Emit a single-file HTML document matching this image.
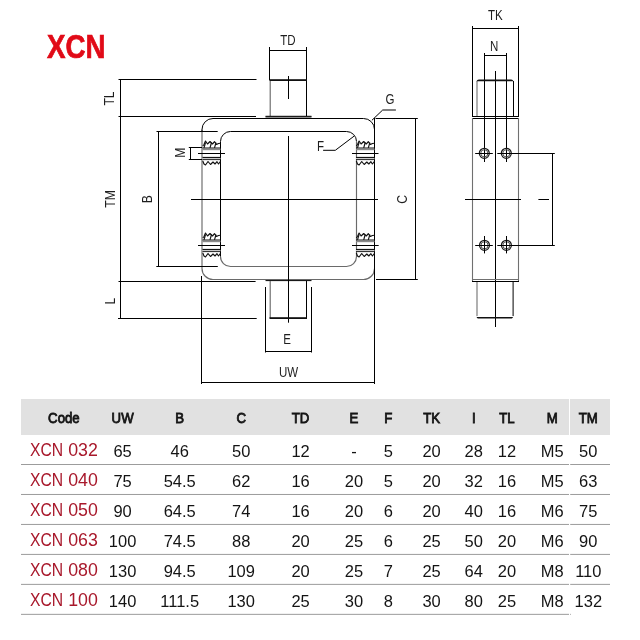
<!DOCTYPE html>
<html><head><meta charset="utf-8"><style>
html,body{margin:0;padding:0;background:#fff;width:640px;height:640px;overflow:hidden}
svg{display:block;will-change:transform}
.k{stroke:#000;stroke-width:1;fill:none}
.kt{stroke:#111;stroke-width:1.15;fill:none;stroke-linejoin:round}
.g{stroke:#6a6a6a;stroke-width:1.15;fill:none}
.g2{stroke:#707070;stroke-width:1.1;fill:none}
text{font-family:"Liberation Sans",sans-serif}
.lb{font-size:14.4px;fill:#1e1e1e;text-anchor:middle}
.h{font-size:14.6px;font-weight:normal;fill:#141414;stroke:#141414;stroke-width:0.85;text-anchor:middle}
.d{font-size:17px;fill:#141414;text-anchor:middle}
.code{font-size:17.8px;fill:#a8182b;text-anchor:middle}
.title{font-size:33.6px;font-weight:bold;fill:#e10a17;stroke:#e10a17;stroke-width:0.7}
</style></head><body>
<svg width="640" height="640" viewBox="0 0 640 640">
<text class="title" x="47.0" y="57.8" textLength="58.6" lengthAdjust="spacingAndGlyphs">XCN</text>
<line class="k" x1="269.5" y1="47" x2="269.5" y2="80"/>
<line class="k" x1="306.5" y1="47" x2="306.5" y2="80"/>
<line class="k" x1="269.5" y1="50.5" x2="306.5" y2="50.5"/>
<line class="g" x1="270.2" y1="80" x2="270.2" y2="116"/>
<line class="k" x1="306.5" y1="80" x2="306.5" y2="116"/>
<rect x="269.5" y="79.2" width="37.5" height="1.8" fill="#111"/>
<line class="k" x1="288.5" y1="76" x2="288.5" y2="99"/>
<rect x="265.5" y="116" width="46" height="2.5" fill="#8d8d8d"/>
<line class="k" x1="265.5" y1="116.3" x2="311.5" y2="116.3"/>
<path class="k" d="M213,118.5 H363.5 A11,11 0 0 1 374.5,129.5 V269"/>
<path class="g" d="M374.5,268.5 A11,11 0 0 1 363.5,279.5 H213 A11,11 0 0 1 202,268.5 V129.5"/>
<path class="k" d="M202,131 V129.5 A11,11 0 0 1 213,118.5"/>
<line class="k" x1="374.5" y1="118" x2="374.5" y2="384"/>
<path class="k" d="M230.5,131.5 H346.5 A10,10 0 0 1 356.5,141.5"/>
<path class="g" d="M356.5,141.5 V256.5 A10,10 0 0 1 346.5,266.5 H230.5 A10,10 0 0 1 220.5,256.5"/>
<path class="k" d="M220.5,256.5 V141.5 A10,10 0 0 1 230.5,131.5"/>
<line class="k" x1="288.5" y1="136" x2="288.5" y2="322.7"/>
<line class="k" x1="191" y1="199.5" x2="378" y2="199.5"/>
<rect x="202.5" y="147.50" width="18.0" height="1.1" fill="#111"/>
<rect x="202.5" y="148.60" width="18.0" height="1.6" fill="#8a8a8a"/>
<rect x="202.5" y="156.90" width="18.0" height="1.1" fill="#111"/>
<rect x="202.5" y="158.00" width="18.0" height="1.2" fill="#c8c8c8"/>
<rect x="202.5" y="159.10" width="18.0" height="1.0" fill="#222"/>
<polyline class="kt" points="202.8,146.0 204.0,144.5 205.5,141.0 207.5,144.0 210.0,141.5 212.5,144.0 214.5,141.7 216.5,144.5 218.5,143.5 220.5,143.3"/>
<polyline class="kt" points="202.8,161.0 204.0,164.0 205.5,165.0 208.0,161.5 210.5,164.5 213.0,162.0 215.0,164.0 217.0,161.7 218.5,164.0 220.0,162.0 220.5,161.5"/>
<line class="kt" x1="204.0" y1="147.9" x2="205.5" y2="142.5"/>
<line class="kt" x1="210.0" y1="147.9" x2="211.5" y2="142.5"/>
<line class="kt" x1="214.5" y1="147.9" x2="216.0" y2="142.5"/>
<rect x="356" y="147.50" width="18.5" height="1.1" fill="#111"/>
<rect x="356" y="148.60" width="18.5" height="1.6" fill="#8a8a8a"/>
<rect x="356" y="156.90" width="18.5" height="1.1" fill="#111"/>
<rect x="356" y="158.00" width="18.5" height="1.2" fill="#c8c8c8"/>
<rect x="356" y="159.10" width="18.5" height="1.0" fill="#222"/>
<polyline class="kt" points="356.3,146.0 357.5,144.5 359.1,141.0 361.1,144.0 363.7,141.5 366.3,144.0 368.3,141.7 370.4,144.5 372.4,143.5 374.5,143.3"/>
<polyline class="kt" points="356.3,161.0 357.5,164.0 359.1,165.0 361.7,161.5 364.2,164.5 366.8,162.0 368.8,164.0 370.9,161.7 372.4,164.0 374.0,162.0 374.5,161.5"/>
<line class="kt" x1="357.5" y1="147.9" x2="359.1" y2="142.5"/>
<line class="kt" x1="363.7" y1="147.9" x2="365.2" y2="142.5"/>
<line class="kt" x1="368.3" y1="147.9" x2="369.9" y2="142.5"/>
<rect x="202.5" y="239.50" width="18.0" height="1.1" fill="#111"/>
<rect x="202.5" y="240.60" width="18.0" height="1.6" fill="#8a8a8a"/>
<rect x="202.5" y="248.90" width="18.0" height="1.1" fill="#111"/>
<rect x="202.5" y="250.00" width="18.0" height="1.2" fill="#c8c8c8"/>
<rect x="202.5" y="251.10" width="18.0" height="1.0" fill="#222"/>
<polyline class="kt" points="202.8,238.0 204.0,236.5 205.5,233.0 207.5,236.0 210.0,233.5 212.5,236.0 214.5,233.7 216.5,236.5 218.5,235.5 220.5,235.3"/>
<polyline class="kt" points="202.8,253.0 204.0,256.0 205.5,257.0 208.0,253.5 210.5,256.5 213.0,254.0 215.0,256.0 217.0,253.7 218.5,256.0 220.0,254.0 220.5,253.5"/>
<line class="kt" x1="204.0" y1="239.9" x2="205.5" y2="234.5"/>
<line class="kt" x1="210.0" y1="239.9" x2="211.5" y2="234.5"/>
<line class="kt" x1="214.5" y1="239.9" x2="216.0" y2="234.5"/>
<rect x="356" y="239.50" width="18.5" height="1.1" fill="#111"/>
<rect x="356" y="240.60" width="18.5" height="1.6" fill="#8a8a8a"/>
<rect x="356" y="248.90" width="18.5" height="1.1" fill="#111"/>
<rect x="356" y="250.00" width="18.5" height="1.2" fill="#c8c8c8"/>
<rect x="356" y="251.10" width="18.5" height="1.0" fill="#222"/>
<polyline class="kt" points="356.3,238.0 357.5,236.5 359.1,233.0 361.1,236.0 363.7,233.5 366.3,236.0 368.3,233.7 370.4,236.5 372.4,235.5 374.5,235.3"/>
<polyline class="kt" points="356.3,253.0 357.5,256.0 359.1,257.0 361.7,253.5 364.2,256.5 366.8,254.0 368.8,256.0 370.9,253.7 372.4,256.0 374.0,254.0 374.5,253.5"/>
<line class="kt" x1="357.5" y1="239.9" x2="359.1" y2="234.5"/>
<line class="kt" x1="363.7" y1="239.9" x2="365.2" y2="234.5"/>
<line class="kt" x1="368.3" y1="239.9" x2="369.9" y2="234.5"/>
<line class="k" x1="198" y1="153.5" x2="225" y2="153.5"/>
<line class="k" x1="352" y1="153.5" x2="378.5" y2="153.5"/>
<line class="k" x1="198" y1="245.5" x2="225" y2="245.5"/>
<line class="k" x1="352" y1="245.5" x2="378.7" y2="245.5"/>
<line class="k" x1="265.5" y1="280.6" x2="311.5" y2="280.6" stroke-width="1.4"/>
<line class="g" x1="270.2" y1="281" x2="270.2" y2="318"/>
<line class="k" x1="306.5" y1="281" x2="306.5" y2="318"/>
<rect x="269.5" y="317.2" width="37.5" height="1.8" fill="#111"/>
<line class="k" x1="265.5" y1="287" x2="265.5" y2="352.5"/>
<line class="k" x1="311.5" y1="287" x2="311.5" y2="352.5"/>
<line class="k" x1="265.5" y1="351.5" x2="311.5" y2="351.5"/>
<line class="k" x1="201.5" y1="276" x2="201.5" y2="384"/>
<line class="k" x1="201.5" y1="382.5" x2="374.5" y2="382.5"/>
<line class="k" x1="118.5" y1="79.5" x2="256.5" y2="79.5"/>
<line class="k" x1="118.5" y1="116.5" x2="256" y2="116.5"/>
<line class="k" x1="120.5" y1="79" x2="120.5" y2="318.5"/>
<line class="k" x1="118.5" y1="281.5" x2="255.6" y2="281.5"/>
<line class="k" x1="118" y1="318.5" x2="256.7" y2="318.5"/>
<line class="k" x1="156.5" y1="131.5" x2="217.7" y2="131.5"/>
<line class="k" x1="156.3" y1="266.5" x2="217.8" y2="266.5"/>
<line class="k" x1="158.5" y1="131" x2="158.5" y2="266.5"/>
<line class="k" x1="188.8" y1="147.5" x2="202" y2="147.5"/>
<line class="k" x1="188.8" y1="159.5" x2="202" y2="159.5"/>
<line class="k" x1="190.5" y1="147.5" x2="190.5" y2="159.5"/>
<line class="k" x1="375.6" y1="118.5" x2="417.8" y2="118.5"/>
<line class="k" x1="376" y1="279.5" x2="417.8" y2="279.5"/>
<line class="k" x1="415.5" y1="118.5" x2="415.5" y2="279.5"/>
<polyline class="k" points="371.9,120.3 382.7,110 395.9,110"/>
<polyline class="k" points="354,136.2 335.3,150.3 323.1,150.3"/>
<text class="lb" transform="translate(288.0,45.1) scale(0.8,1)" x="0" y="0">TD</text>
<text class="lb" transform="translate(288.6,376.7) scale(0.8,1)" x="0" y="0">UW</text>
<text class="lb" transform="translate(287.2,343.7) scale(0.8,1)" x="0" y="0">E</text>
<text class="lb" transform="translate(389.9,104.45) scale(0.8,1)" x="0" y="0">G</text>
<text class="lb" transform="translate(320.5,150.9) scale(0.8,1)" x="0" y="0">F</text>
<text class="lb" transform="translate(495.4,20.0) scale(0.8,1)" x="0" y="0">TK</text>
<text class="lb" transform="translate(494.2,50.9) scale(0.8,1)" x="0" y="0">N</text>
<text class="lb" style="font-size:15.2px" transform="translate(109.0,98.5) rotate(-90) scale(0.8,1)" x="0" y="5.44">TL</text>
<text class="lb" style="font-size:15.2px" transform="translate(109.2,198.9) rotate(-90) scale(0.8,1)" x="0" y="5.44">TM</text>
<text class="lb" style="font-size:15.2px" transform="translate(146.1,199.1) rotate(-90) scale(0.8,1)" x="0" y="5.44">B</text>
<text class="lb" style="font-size:15.2px" transform="translate(109.4,301.0) rotate(-90) scale(0.8,1)" x="0" y="5.44">L</text>
<text class="lb" style="font-size:15.2px" transform="translate(401.2,199.3) rotate(-90) scale(0.8,1)" x="0" y="5.44">C</text>
<text class="lb" style="font-size:15.2px" transform="translate(179.5,152.7) rotate(-90) scale(0.8,1)" x="0" y="5.44">M</text>
<line class="k" x1="538.4" y1="199.5" x2="549" y2="199.5"/>
<line class="k" x1="472.5" y1="26" x2="472.5" y2="116.5"/>
<line class="k" x1="518.5" y1="26" x2="518.5" y2="116.5"/>
<line class="k" x1="472.5" y1="28.5" x2="518.5" y2="28.5"/>
<line class="k" x1="484.5" y1="53" x2="484.5" y2="162"/>
<line class="k" x1="506.5" y1="53" x2="506.5" y2="162"/>
<line class="k" x1="484.5" y1="55.5" x2="506.5" y2="55.5"/>
<line class="k" x1="495.5" y1="71" x2="495.5" y2="327"/>
<line class="g2" x1="477" y1="81" x2="477" y2="116"/>
<line class="k" x1="513.5" y1="81" x2="513.5" y2="116"/>
<path d="M476.5,82 Q476.5,79.5 479,79.5 H511 Q513.5,79.5 513.5,82 V81.3 H476.5 Z" fill="#111"/>
<line class="k" x1="472" y1="116.5" x2="519" y2="116.5"/>
<line class="k" x1="472" y1="118.5" x2="519" y2="118.5"/>
<line class="g2" x1="472.5" y1="118" x2="472.5" y2="281"/>
<line class="g2" x1="518.5" y1="118" x2="518.5" y2="281"/>
<line class="g2" x1="472" y1="279.5" x2="519" y2="279.5"/>
<line class="k" x1="472" y1="281.5" x2="519" y2="281.5"/>
<circle cx="484.3" cy="153.3" r="5.0" fill="none" stroke="#1a1a1a" stroke-width="1.2"/>
<circle cx="484.3" cy="153.3" r="3.6" fill="none" stroke="#555" stroke-width="1.0"/>
<circle cx="506.3" cy="153.3" r="5.0" fill="none" stroke="#1a1a1a" stroke-width="1.2"/>
<circle cx="506.3" cy="153.3" r="3.6" fill="none" stroke="#555" stroke-width="1.0"/>
<circle cx="484.5" cy="245.3" r="5.0" fill="none" stroke="#1a1a1a" stroke-width="1.2"/>
<circle cx="484.5" cy="245.3" r="3.6" fill="none" stroke="#555" stroke-width="1.0"/>
<circle cx="506.4" cy="245.3" r="5.0" fill="none" stroke="#1a1a1a" stroke-width="1.2"/>
<circle cx="506.4" cy="245.3" r="3.6" fill="none" stroke="#555" stroke-width="1.0"/>
<line class="k" x1="475.2" y1="153.5" x2="492.8" y2="153.5"/>
<line class="k" x1="497.3" y1="153.5" x2="554.8" y2="153.5"/>
<line class="k" x1="475.2" y1="245.5" x2="492.8" y2="245.5"/>
<line class="k" x1="497.3" y1="245.5" x2="554.8" y2="245.5"/>
<line class="k" x1="484.5" y1="236" x2="484.5" y2="253.4"/>
<line class="k" x1="506.5" y1="236" x2="506.5" y2="253.4"/>
<line class="k" x1="465" y1="199.5" x2="521" y2="199.5"/>
<line class="k" x1="552.5" y1="153.5" x2="552.5" y2="245.5"/>
<line class="g2" x1="477" y1="282" x2="477" y2="316"/>
<line class="k" x1="513.1" y1="282" x2="513.1" y2="316"/>
<path d="M476.5,316 Q476.5,318.6 479,318.6 H510.6 Q513.1,318.6 513.1,316 V316.9 H476.5 Z" fill="#111"/>
<rect x="21" y="399" width="589" height="36" fill="#e1e1e1"/>
<rect x="569" y="399" width="1" height="36" fill="#fff"/>
<text class="h" x="70.61" y="422.7" transform="scale(0.905,1)">Code</text>
<text class="h" x="135.47" y="422.7" transform="scale(0.905,1)">UW</text>
<text class="h" x="198.56" y="422.7" transform="scale(0.905,1)">B</text>
<text class="h" x="266.52" y="422.7" transform="scale(0.905,1)">C</text>
<text class="h" x="332.15" y="422.7" transform="scale(0.905,1)">TD</text>
<text class="h" x="391.05" y="422.7" transform="scale(0.905,1)">E</text>
<text class="h" x="429.17" y="422.7" transform="scale(0.905,1)">F</text>
<text class="h" x="476.91" y="422.7" transform="scale(0.905,1)">TK</text>
<text class="h" x="523.54" y="422.7" transform="scale(0.905,1)">I</text>
<text class="h" x="560.22" y="422.7" transform="scale(0.905,1)">TL</text>
<text class="h" x="610.28" y="422.7" transform="scale(0.905,1)">M</text>
<text class="h" x="650.06" y="422.7" transform="scale(0.905,1)">TM</text>
<rect x="21" y="464.00" width="589" height="1" fill="#9c9c9c"/>
<rect x="21" y="493.97" width="589" height="1" fill="#9c9c9c"/>
<rect x="21" y="523.94" width="589" height="1" fill="#9c9c9c"/>
<rect x="21" y="553.91" width="589" height="1" fill="#9c9c9c"/>
<rect x="21" y="583.88" width="589" height="1" fill="#9c9c9c"/>
<rect x="21" y="613.85" width="550" height="1" fill="#9c9c9c"/>
<rect x="569" y="460" width="1.2" height="160" fill="#fff"/>
<text class="code" x="30.0" y="455.80" textLength="33.2" lengthAdjust="spacingAndGlyphs" style="text-anchor:start">XCN</text>
<text class="code" x="97.9" y="455.80" style="text-anchor:end">032</text>
<text class="d" x="126.39" y="457.30" transform="scale(0.97,1)">65</text>
<text class="d" x="185.26" y="457.30" transform="scale(0.97,1)">46</text>
<text class="d" x="248.66" y="457.30" transform="scale(0.97,1)">50</text>
<text class="d" x="309.90" y="457.30" transform="scale(0.97,1)">12</text>
<text class="d" x="364.85" y="457.30" transform="scale(0.97,1)">-</text>
<text class="d" x="400.41" y="457.30" transform="scale(0.97,1)">5</text>
<text class="d" x="444.95" y="457.30" transform="scale(0.97,1)">20</text>
<text class="d" x="488.45" y="457.30" transform="scale(0.97,1)">28</text>
<text class="d" x="522.68" y="457.30" transform="scale(0.97,1)">12</text>
<text class="d" x="569.38" y="457.30" transform="scale(0.97,1)">M5</text>
<text class="d" x="606.49" y="457.30" transform="scale(0.97,1)">50</text>
<text class="code" x="30.0" y="485.77" textLength="33.2" lengthAdjust="spacingAndGlyphs" style="text-anchor:start">XCN</text>
<text class="code" x="97.9" y="485.77" style="text-anchor:end">040</text>
<text class="d" x="126.39" y="487.27" transform="scale(0.97,1)">75</text>
<text class="d" x="185.26" y="487.27" transform="scale(0.97,1)">54.5</text>
<text class="d" x="248.66" y="487.27" transform="scale(0.97,1)">62</text>
<text class="d" x="309.90" y="487.27" transform="scale(0.97,1)">16</text>
<text class="d" x="364.85" y="487.27" transform="scale(0.97,1)">20</text>
<text class="d" x="400.41" y="487.27" transform="scale(0.97,1)">5</text>
<text class="d" x="444.95" y="487.27" transform="scale(0.97,1)">20</text>
<text class="d" x="488.45" y="487.27" transform="scale(0.97,1)">32</text>
<text class="d" x="522.68" y="487.27" transform="scale(0.97,1)">16</text>
<text class="d" x="569.38" y="487.27" transform="scale(0.97,1)">M5</text>
<text class="d" x="606.49" y="487.27" transform="scale(0.97,1)">63</text>
<text class="code" x="30.0" y="515.74" textLength="33.2" lengthAdjust="spacingAndGlyphs" style="text-anchor:start">XCN</text>
<text class="code" x="97.9" y="515.74" style="text-anchor:end">050</text>
<text class="d" x="126.39" y="517.24" transform="scale(0.97,1)">90</text>
<text class="d" x="185.26" y="517.24" transform="scale(0.97,1)">64.5</text>
<text class="d" x="248.66" y="517.24" transform="scale(0.97,1)">74</text>
<text class="d" x="309.90" y="517.24" transform="scale(0.97,1)">16</text>
<text class="d" x="364.85" y="517.24" transform="scale(0.97,1)">20</text>
<text class="d" x="400.41" y="517.24" transform="scale(0.97,1)">6</text>
<text class="d" x="444.95" y="517.24" transform="scale(0.97,1)">20</text>
<text class="d" x="488.45" y="517.24" transform="scale(0.97,1)">40</text>
<text class="d" x="522.68" y="517.24" transform="scale(0.97,1)">16</text>
<text class="d" x="569.38" y="517.24" transform="scale(0.97,1)">M6</text>
<text class="d" x="606.49" y="517.24" transform="scale(0.97,1)">75</text>
<text class="code" x="30.0" y="545.71" textLength="33.2" lengthAdjust="spacingAndGlyphs" style="text-anchor:start">XCN</text>
<text class="code" x="97.9" y="545.71" style="text-anchor:end">063</text>
<text class="d" x="126.39" y="547.21" transform="scale(0.97,1)">100</text>
<text class="d" x="185.26" y="547.21" transform="scale(0.97,1)">74.5</text>
<text class="d" x="248.66" y="547.21" transform="scale(0.97,1)">88</text>
<text class="d" x="309.90" y="547.21" transform="scale(0.97,1)">20</text>
<text class="d" x="364.85" y="547.21" transform="scale(0.97,1)">25</text>
<text class="d" x="400.41" y="547.21" transform="scale(0.97,1)">6</text>
<text class="d" x="444.95" y="547.21" transform="scale(0.97,1)">25</text>
<text class="d" x="488.45" y="547.21" transform="scale(0.97,1)">50</text>
<text class="d" x="522.68" y="547.21" transform="scale(0.97,1)">20</text>
<text class="d" x="569.38" y="547.21" transform="scale(0.97,1)">M6</text>
<text class="d" x="606.49" y="547.21" transform="scale(0.97,1)">90</text>
<text class="code" x="30.0" y="575.68" textLength="33.2" lengthAdjust="spacingAndGlyphs" style="text-anchor:start">XCN</text>
<text class="code" x="97.9" y="575.68" style="text-anchor:end">080</text>
<text class="d" x="126.39" y="577.18" transform="scale(0.97,1)">130</text>
<text class="d" x="185.26" y="577.18" transform="scale(0.97,1)">94.5</text>
<text class="d" x="248.66" y="577.18" transform="scale(0.97,1)">109</text>
<text class="d" x="309.90" y="577.18" transform="scale(0.97,1)">20</text>
<text class="d" x="364.85" y="577.18" transform="scale(0.97,1)">25</text>
<text class="d" x="400.41" y="577.18" transform="scale(0.97,1)">7</text>
<text class="d" x="444.95" y="577.18" transform="scale(0.97,1)">25</text>
<text class="d" x="488.45" y="577.18" transform="scale(0.97,1)">64</text>
<text class="d" x="522.68" y="577.18" transform="scale(0.97,1)">20</text>
<text class="d" x="569.38" y="577.18" transform="scale(0.97,1)">M8</text>
<text class="d" x="606.49" y="577.18" transform="scale(0.97,1)">110</text>
<text class="code" x="30.0" y="605.65" textLength="33.2" lengthAdjust="spacingAndGlyphs" style="text-anchor:start">XCN</text>
<text class="code" x="97.9" y="605.65" style="text-anchor:end">100</text>
<text class="d" x="126.39" y="607.15" transform="scale(0.97,1)">140</text>
<text class="d" x="185.26" y="607.15" transform="scale(0.97,1)">111.5</text>
<text class="d" x="248.66" y="607.15" transform="scale(0.97,1)">130</text>
<text class="d" x="309.90" y="607.15" transform="scale(0.97,1)">25</text>
<text class="d" x="364.85" y="607.15" transform="scale(0.97,1)">30</text>
<text class="d" x="400.41" y="607.15" transform="scale(0.97,1)">8</text>
<text class="d" x="444.95" y="607.15" transform="scale(0.97,1)">30</text>
<text class="d" x="488.45" y="607.15" transform="scale(0.97,1)">80</text>
<text class="d" x="522.68" y="607.15" transform="scale(0.97,1)">25</text>
<text class="d" x="569.38" y="607.15" transform="scale(0.97,1)">M8</text>
<text class="d" x="606.49" y="607.15" transform="scale(0.97,1)">132</text>
</svg>
</body></html>
